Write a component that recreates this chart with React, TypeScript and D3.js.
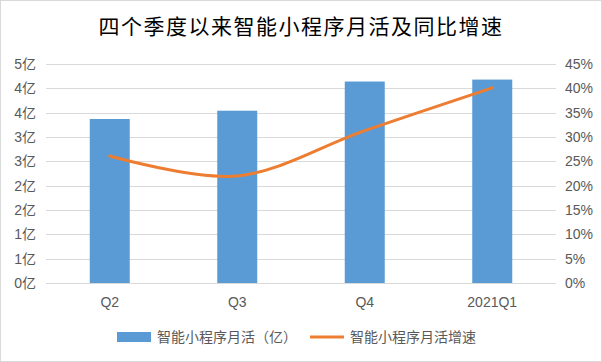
import { type FC, useCallback, useEffect, useRef } from 'react';
import * as d3 from 'd3';

const quarters = ['Q2', 'Q3', 'Q4', '2021Q1'];
const monthlyActive = [3.37, 3.54, 4.14, 4.18]; // 亿
const growthRate = [0.261, 0.22, 0.313, 0.401];
const leftTicks = [0, 0.5, 1, 1.5, 2, 2.5, 3, 3.5, 4, 4.5];
const rightTicks = [0, 0.05, 0.1, 0.15, 0.2, 0.25, 0.3, 0.35, 0.4, 0.45];

const TITLE = '四个季度以来智能小程序月活及同比增速';
const BAR_LABEL = '智能小程序月活（亿）';
const LINE_LABEL = '智能小程序月活增速';

const BAR_COLOR = '#5B9BD5';
const LINE_COLOR = '#ED7D31';
const TEXT_COLOR = '#595959';
const FONT = '"Liberation Sans", "Noto Sans CJK SC", sans-serif';

const App: FC = () => {
  const svgRef = useRef<SVGSVGElement>(null);
  const width = 602;
  const height = 362;

  const renderChart = useCallback(() => {
    const svg = d3.select(svgRef.current);
    svg.selectAll('*').remove();
    const plot = { left: 46, right: 556, top: 64, bottom: 283 };

    svg
      .append('rect')
      .attr('x', 0.5)
      .attr('y', 0.5)
      .attr('width', width - 1)
      .attr('height', height - 1)
      .attr('fill', '#fff')
      .attr('stroke', '#d9d9d9');

    svg
      .append('text')
      .attr('x', width / 2)
      .attr('y', 27)
      .attr('dy', '0.35em')
      .attr('text-anchor', 'middle')
      .attr('font-size', '21px')
      .attr('font-weight', 400)
      .attr('letter-spacing', '1.5px')
      .attr('fill', '#000')
      .text(TITLE);

    const x = d3.scaleBand<string>().domain(quarters).range([plot.left, plot.right]);
    const yLeft = d3.scaleLinear().domain([0, 4.5]).range([plot.bottom, plot.top]);
    const yRight = d3.scaleLinear().domain([0, 0.45]).range([plot.bottom, plot.top]);

    svg
      .append('g')
      .selectAll('line')
      .data(leftTicks)
      .enter()
      .append('line')
      .attr('x1', plot.left)
      .attr('x2', plot.right)
      .attr('y1', (d) => Math.round(yLeft(d)) + 0.5)
      .attr('y2', (d) => Math.round(yLeft(d)) + 0.5)
      .attr('stroke', '#d9d9d9');

    const barW = 40;
    svg
      .append('g')
      .selectAll('rect')
      .data(monthlyActive)
      .enter()
      .append('rect')
      .attr('x', (_d, i) => (x(quarters[i]) ?? 0) + x.bandwidth() / 2 - barW / 2)
      .attr('y', (d) => yLeft(d))
      .attr('width', barW)
      .attr('height', (d) => plot.bottom - yLeft(d))
      .attr('fill', BAR_COLOR);

    const line = d3
      .line<number>()
      .x((_d, i) => (x(quarters[i]) ?? 0) + x.bandwidth() / 2)
      .y((d) => yRight(d))
      .curve(d3.curveCatmullRom.alpha(0.5));
    svg
      .append('path')
      .attr('d', line(growthRate) ?? '')
      .attr('fill', 'none')
      .attr('stroke', LINE_COLOR)
      .attr('stroke-width', 3)
      .attr('stroke-linecap', 'round');

    const tickStyle = (sel: d3.Selection<SVGTextElement, number, SVGGElement, unknown>) =>
      sel.attr('font-size', '14px').attr('fill', TEXT_COLOR).attr('dy', '0.35em');

    svg
      .append('g')
      .selectAll<SVGTextElement, number>('text')
      .data(leftTicks)
      .enter()
      .append('text')
      .attr('x', 36)
      .attr('y', (d) => yLeft(d))
      .attr('text-anchor', 'end')
      .call(tickStyle)
      .text((d) => `${Math.round(d + 1e-9)}亿`);

    svg
      .append('g')
      .selectAll<SVGTextElement, number>('text')
      .data(rightTicks)
      .enter()
      .append('text')
      .attr('x', 565)
      .attr('y', (d) => yRight(d))
      .attr('text-anchor', 'start')
      .call(tickStyle)
      .text((d) => `${Math.round(d * 100)}%`);

    svg
      .append('g')
      .selectAll('text')
      .data(quarters)
      .enter()
      .append('text')
      .attr('x', (d) => (x(d) ?? 0) + x.bandwidth() / 2)
      .attr('y', 302)
      .attr('dy', '0.35em')
      .attr('text-anchor', 'middle')
      .attr('font-size', '14px')
      .attr('fill', TEXT_COLOR)
      .text((d) => d);

    const legend = svg.append('g');
    legend
      .append('rect')
      .attr('x', 117)
      .attr('y', 332)
      .attr('width', 34)
      .attr('height', 10)
      .attr('fill', BAR_COLOR);
    legend
      .append('text')
      .attr('x', 157)
      .attr('y', 337)
      .attr('dy', '0.35em')
      .attr('font-size', '14px')
      .attr('fill', TEXT_COLOR)
      .text(BAR_LABEL);
    legend
      .append('line')
      .attr('x1', 310)
      .attr('x2', 344)
      .attr('y1', 337)
      .attr('y2', 337)
      .attr('stroke', LINE_COLOR)
      .attr('stroke-width', 3);
    legend
      .append('text')
      .attr('x', 350)
      .attr('y', 337)
      .attr('dy', '0.35em')
      .attr('font-size', '14px')
      .attr('fill', TEXT_COLOR)
      .text(LINE_LABEL);
  }, []);

  useEffect(() => {
    renderChart();
  }, [renderChart]);

  return (
    <svg
      ref={svgRef}
      width={width}
      height={height}
      viewBox={`0 0 ${width} ${height}`}
      style={{ position: 'absolute', left: 0, top: 0, fontFamily: FONT }}
    />
  );
};

export default App;
